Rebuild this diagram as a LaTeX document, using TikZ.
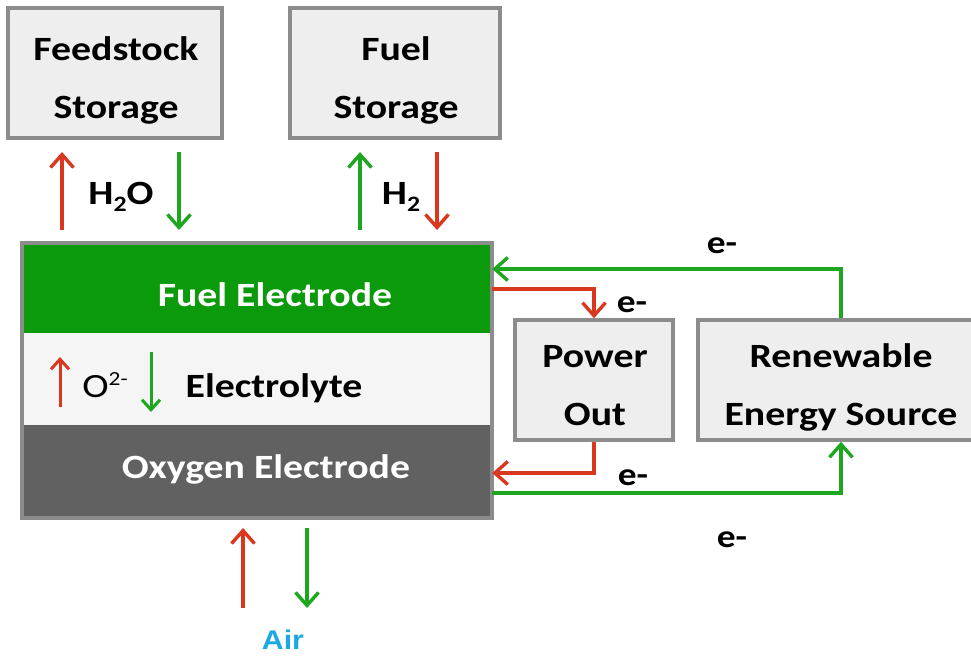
\documentclass[tikz,border=0pt]{standalone}
\usepackage{fontspec}
\setmainfont{Carlito}[FakeStretch=1.17]
\newfontfamily\airfont{Liberation Sans}[FakeStretch=1.12]
\usetikzlibrary{arrows.meta}
\definecolor{rd}{HTML}{D9381E}
\definecolor{gn}{HTML}{1FA61F}
\definecolor{fegreen}{HTML}{0B9A0B}
\definecolor{oxgray}{HTML}{616161}
\definecolor{boxfill}{HTML}{EEEEEE}
\definecolor{boxline}{HTML}{8C8C8C}
\definecolor{aircol}{HTML}{1CA8E5}
\tikzset{
  storebox/.style={draw=boxline, line width=3.5pt, fill=boxfill, inner sep=0pt},
  layer/.style={minimum width=470pt, inner sep=0pt, draw=none},
  boxtext/.style={font=\fontsize{34}{58}\selectfont\bfseries, align=center, anchor=base, inner sep=0pt},
  elabel/.style={font=\fontsize{32}{32}\selectfont\bfseries, anchor=base, inner sep=0pt},
  arr/.style={line width=3.4pt, -{Straight Barb[length=13pt,width=23pt,line width=3.4pt]}},
  sarr/.style={line width=3pt, -{Straight Barb[length=10pt,width=18pt,line width=3pt]}},
  rarr/.style={arr, draw=rd},
  garr/.style={arr, draw=gn},
}
\begin{document}
\begin{tikzpicture}[x=1pt,y=-1pt]
\useasboundingbox (0,0) rectangle (971,656);
\fill[white] (0,0) rectangle (971,656);

% storage boxes
\node[storebox, minimum width=214pt, minimum height=130pt] (fs) at (115,73) {};
\node[boxtext] (fst) at (116,118) {Feedstock\\Storage};
\node[storebox, minimum width=210pt, minimum height=130pt] (fus) at (395,73) {};
\node[boxtext] (fust) at (396,118) {Fuel\\Storage};

% cell
\node[layer, fill=fegreen, minimum height=90pt] (fe) at (257,288) {};
\node[layer, fill=white!96!black, minimum height=92pt] (el) at (257,379) {};
\node[layer, fill=oxgray, minimum height=93pt] (ox) at (257,471.5) {};
\draw[draw=boxline, line width=4pt] (fe.north west) rectangle (ox.south east);
\node[boxtext, text=white] (fet) at (275,306) {Fuel Electrode};
\node[boxtext, text=white] (oxt) at (266,478) {Oxygen Electrode};
\node[boxtext] (elt) at (274,397) {Electrolyte};
\node[anchor=base, inner sep=0pt, font=\fontsize{34}{34}\selectfont] (o2) at (105,397) {O\raisebox{12pt}{\fontsize{20}{20}\selectfont 2-}};

% electrolyte arrows
\coordinate (e1s) at (60,407); \coordinate (e1e) at (60,357);
\coordinate (e2s) at (151,352); \coordinate (e2e) at (151,412);
\draw[sarr, draw=rd] (e1s) -- (e1e);
\draw[sarr, draw=gn] (e2s) -- (e2e);

% feedstock arrows
\coordinate (a1s) at (62,230); \coordinate (a1e) at (62,152);
\coordinate (a2s) at (179,152); \coordinate (a2e) at (179,230);
\draw[rarr] (a1s) -- (a1e);
\draw[garr] (a2s) -- (a2e);
\node[anchor=base, inner sep=0pt, font=\fontsize{34}{34}\selectfont\bfseries] (h2o) at (121,204) {H\raisebox{-7pt}{\fontsize{22}{22}\selectfont 2}O};

% fuel arrows
\coordinate (b1s) at (360,230); \coordinate (b1e) at (360,152);
\coordinate (b2s) at (437,152); \coordinate (b2e) at (437,230);
\draw[garr] (b1s) -- (b1e);
\draw[rarr] (b2s) -- (b2e);
\node[anchor=base, inner sep=0pt, font=\fontsize{34}{34}\selectfont\bfseries] (h2) at (401,204) {H\raisebox{-7pt}{\fontsize{22}{22}\selectfont 2}};

% right boxes
\node[storebox, minimum width=158pt, minimum height=120pt] (po) at (594,380) {};
\node[boxtext] (pot) at (595,425) {Power\\Out};
\node[storebox, minimum width=286pt, minimum height=120pt] (ren) at (841,380) {};
\node[boxtext] (rent) at (841,425) {Renewable\\Energy Source};

% electron connectors
\draw[garr] (ren.north) |- ([yshift=19pt]fe.east);
\draw[rarr] ([yshift=-1pt]fe.east) -| (po.north);
\draw[rarr] (po.south) |- ([yshift=-1.5pt]ox.east);
\draw[garr] ([yshift=-21.5pt]ox.east) -| (ren.south);
\node[elabel] (e1) at (722,253) {e-};
\node[elabel] (e2) at (632,312) {e-};
\node[elabel] (e3) at (633,485) {e-};
\node[elabel] (e4) at (732,547) {e-};

% air
\coordinate (c1s) at (243,608); \coordinate (c1e) at (243,528);
\coordinate (c2s) at (307,528); \coordinate (c2e) at (307,608);
\draw[rarr] (c1s) -- (c1e);
\draw[garr] (c2s) -- (c2e);
\node[anchor=base, inner sep=0pt, text=aircol, font=\airfont\fontsize{27}{27}\selectfont\bfseries] (air) at (283,649) {Air};
\end{tikzpicture}
\end{document}
